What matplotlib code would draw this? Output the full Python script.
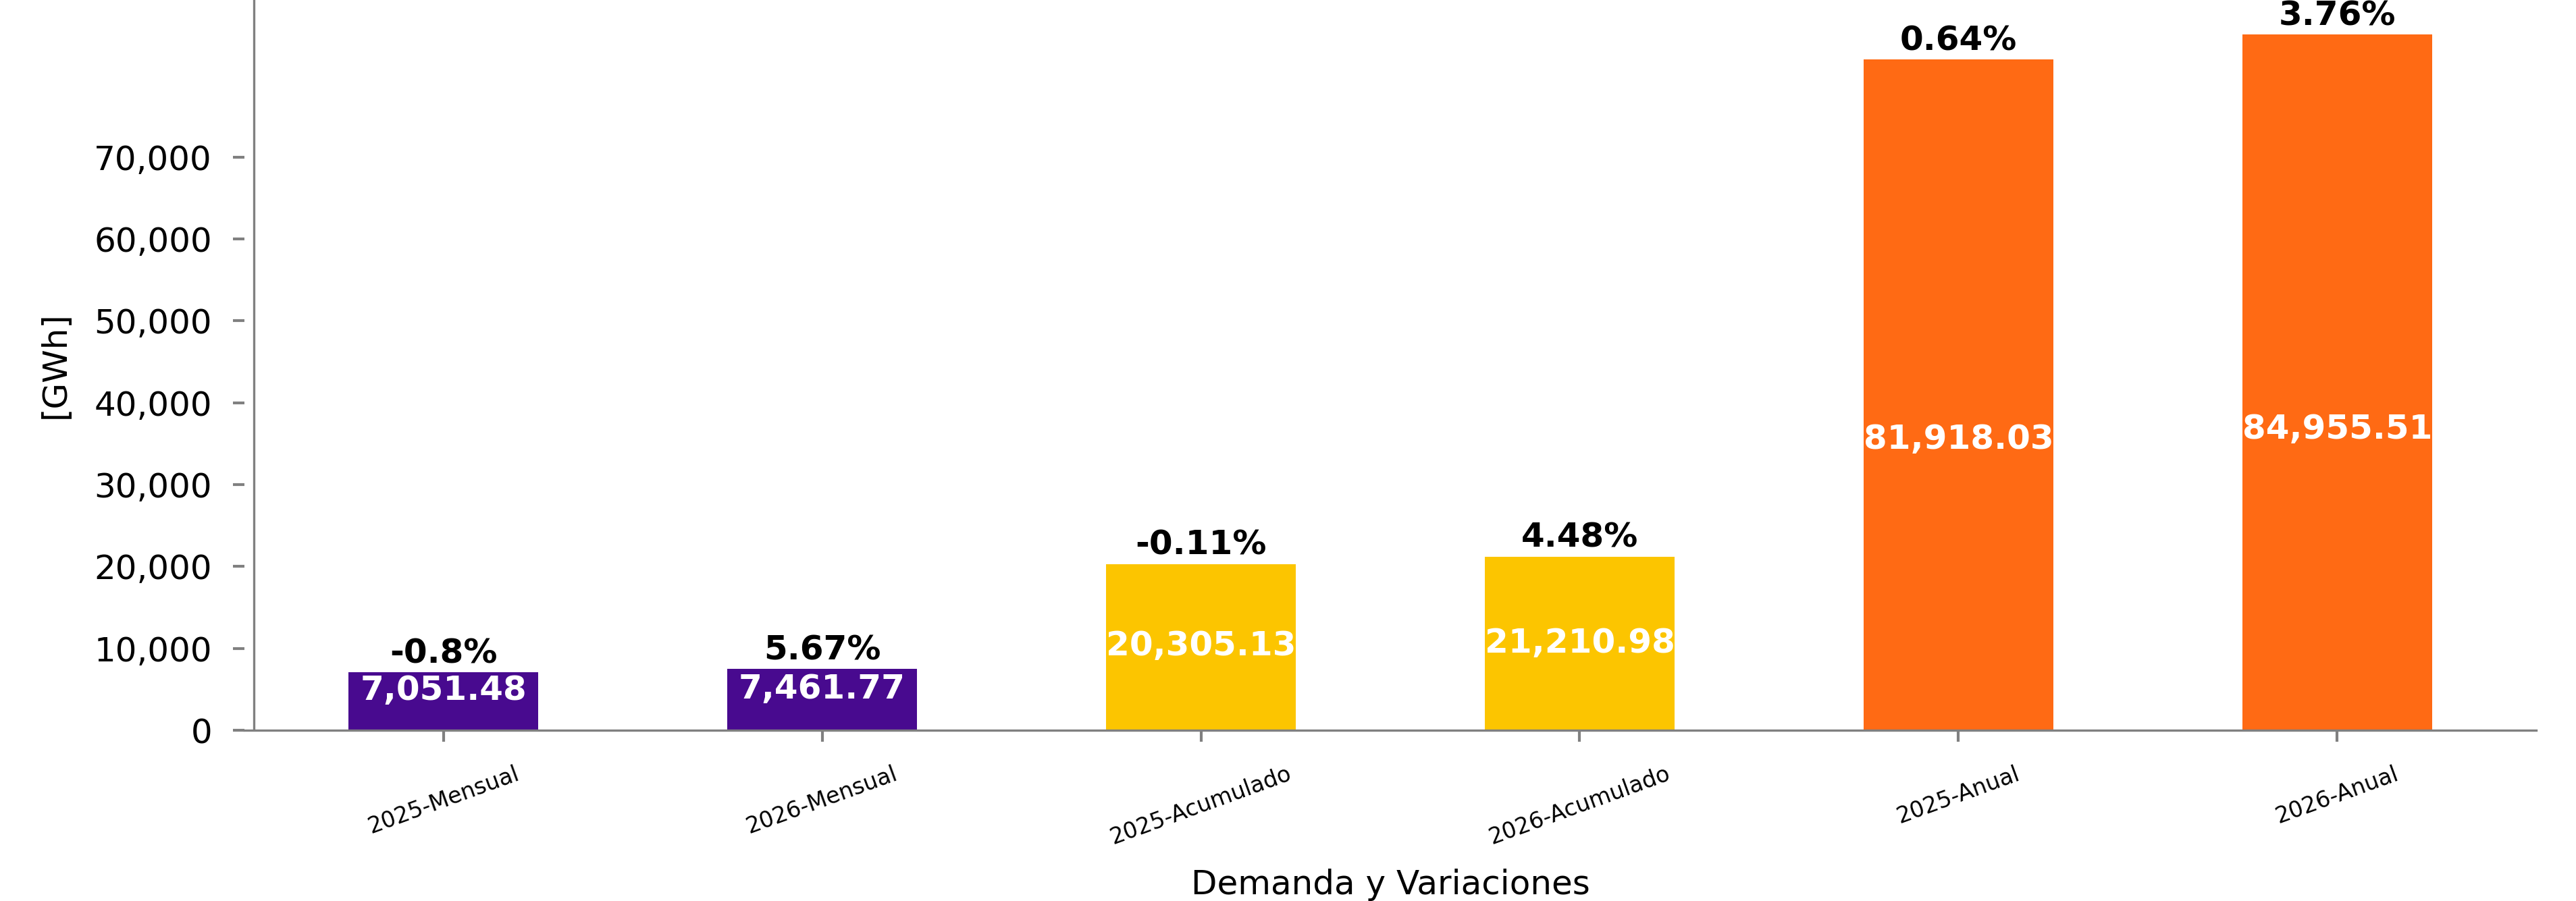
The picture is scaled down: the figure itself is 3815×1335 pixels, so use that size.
import matplotlib
matplotlib.use("Agg")
import matplotlib.pyplot as plt
from matplotlib.ticker import FuncFormatter

# demanda de energia por periodo
categorias = ["2025-Mensual", "2026-Mensual", "2025-Acumulado",
              "2026-Acumulado", "2025-Anual", "2026-Anual"]
demanda = [7051.48, 7461.77, 20305.13, 21210.98, 81918.03, 84955.51]
variacion = ["-0.8%", "5.67%", "-0.11%", "4.48%", "0.64%", "3.76%"]
colores = ["#480A8F", "#480A8F", "#FCC500", "#FCC500", "#FF6A14", "#FF6A14"]
yticks = [0, 10000, 20000, 30000, 40000, 50000, 60000, 70000]

W, H, DPI = 3815, 1335, 300
fig = plt.figure(figsize=(W / DPI, H / DPI), dpi=DPI)
ax = fig.add_axes([362 / W, 253 / H, (3756 - 362) / W, 1082 / H])

x = list(range(len(categorias)))
ax.bar(x, demanda, width=0.5, color=colores)

for i, (v, p) in enumerate(zip(demanda, variacion)):
    ax.text(i, v + 330, p, ha="center", va="bottom", fontsize=12,
            fontweight="bold", color="black")
    ax.text(i, 0.41 * v + 800, "{:,.2f}".format(v), ha="center", va="baseline",
            fontsize=12, fontweight="bold", color="white")

ax.set_ylim(0, 89200)
ax.set_xlim(-0.525, 5.525)
ax.set_yticks(yticks)
ax.yaxis.set_major_formatter(FuncFormatter(lambda v, pos: "{:,.0f}".format(v)))
ax.set_xticks(x)
ax.set_xticklabels(categorias, rotation=20, fontsize=8)

for s in ["top", "right", "left"]:
    ax.spines[s].set_visible(False)
ax.spines["bottom"].set_color("grey")
ax.spines["bottom"].set_linewidth(0.8)
ax.axvline(-0.5, color="grey", linewidth=0.8)

ax.tick_params(axis="both", colors="grey", length=4, width=1, pad=7.5,
               labelcolor="black")
ax.tick_params(axis="y", labelsize=12)

ax.set_ylabel("[GWh]", fontsize=12, labelpad=8)
ax.set_xlabel("Demanda y Variaciones", fontsize=12, labelpad=7)

fig.savefig("out.png", dpi=DPI)
